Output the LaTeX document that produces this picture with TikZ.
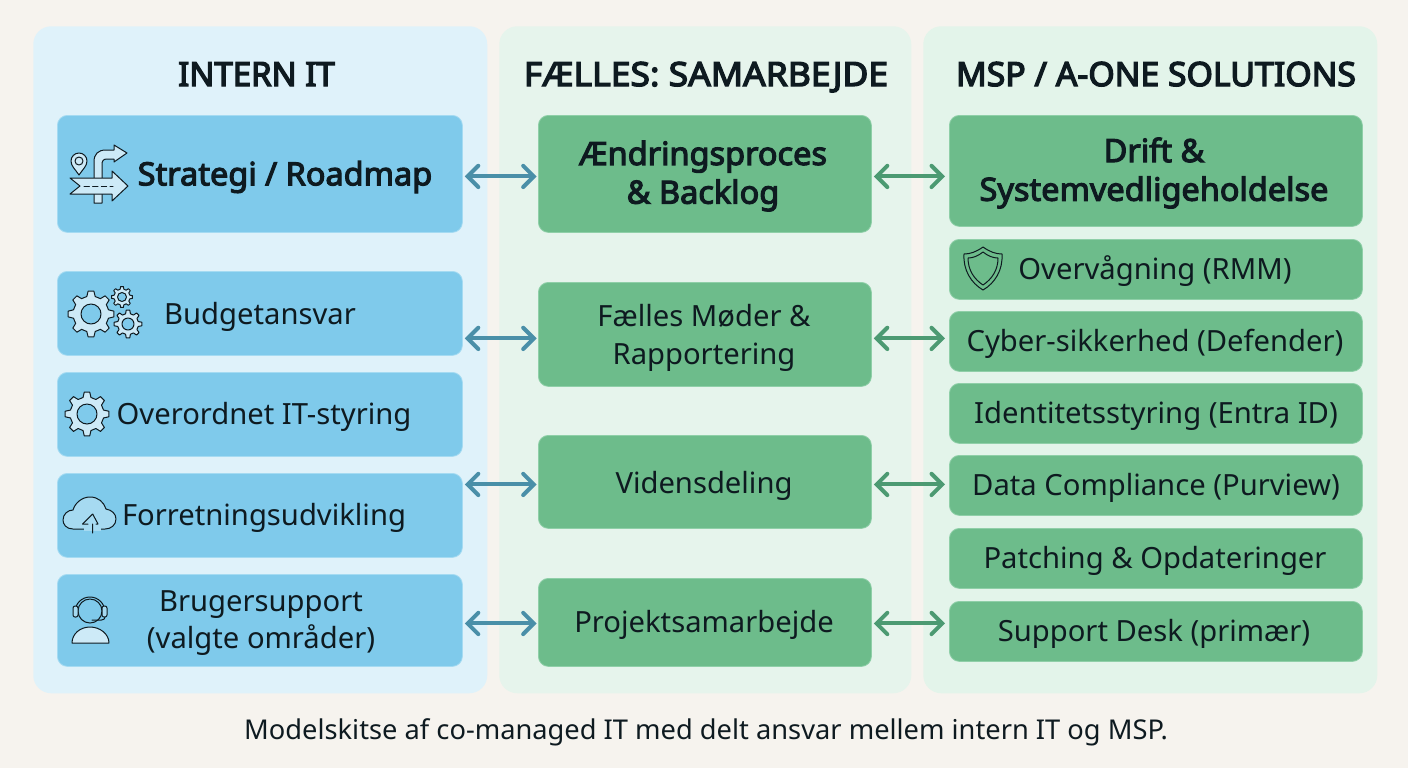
\documentclass[tikz,border=0pt]{standalone}
\usepackage{fontspec}
\setmainfont{Noto Sans}
\newfontfamily\titlea{Noto Sans}[FakeBold=4,FakeStretch=0.99]
\newfontfamily\titleb{Noto Sans}[FakeBold=4,FakeStretch=1.065]
\newfontfamily\titlec{Noto Sans}[FakeBold=4,FakeStretch=1.014]
\newfontfamily\boldlab{Noto Sans}[FakeBold=3.5,FakeStretch=1.015]
\usetikzlibrary{arrows.meta,calc}
\definecolor{bgc}{HTML}{F6F3EE}
\definecolor{pblue}{HTML}{DFF2FA}
\definecolor{pgreen}{HTML}{E6F4EC}
\definecolor{pgreenb}{HTML}{E3F4EA}
\definecolor{bblue}{HTML}{7FCAEB}
\definecolor{bgreen}{HTML}{6DBC8B}
\definecolor{edgeb}{HTML}{A5DBF2}
\definecolor{edgeg}{HTML}{8FCFA8}
\definecolor{ink}{HTML}{0E1A20}
\definecolor{arrb}{HTML}{4A8FA8}
\definecolor{arrg}{HTML}{4C9A72}
\definecolor{iconf}{HTML}{CDEAF7}
\newcommand{\fs}[2]{\fontsize{#1}{#2}\selectfont}
\tikzset{
  x=0.75pt,y=-0.75pt,
  panel/.style={rounded corners=13.5pt,draw=none},
  bluebox/.style={rounded corners=7.5pt,fill=bblue,draw=edgeb,line width=0.6pt},
  greenbox/.style={rounded corners=7.5pt,fill=bgreen,draw=edgeg,line width=0.6pt},
  title/.style={text=ink,anchor=base},
  lab/.style={text=ink,font=\fs{21.9}{28}\selectfont,align=center,anchor=center,yshift=-2.2pt},
  blab/.style={text=ink,font=\boldlab\fs{24}{29},align=center,anchor=center,yshift=-1.5pt},
  barrow/.style={line width=3pt,draw=arrb,{Straight Barb[length=8pt,width=16pt,line cap=round]}-{Straight Barb[length=8pt,width=16pt,line cap=round]},line cap=round,shorten <=1.5pt,shorten >=1pt},
  garrow/.style={line width=3pt,draw=arrg,{Straight Barb[length=8pt,width=16pt,line cap=round]}-{Straight Barb[length=8pt,width=16pt,line cap=round]},line cap=round,shorten <=1.5pt,shorten >=3pt},
  icon/.style={draw=ink,line width=0.75pt,line join=round,fill=iconf},
  iconn/.style={draw=ink,line width=0.75pt,line join=round,line cap=round},
}
\newcommand{\bx}[6]{\node[#6,rectangle,inner sep=0pt,minimum width={(#4-#2)*0.75pt},minimum height={(#5-#3)*0.75pt},anchor=north west] (#1) at (#2,#3) {};}
\newcommand{\gearicon}[7][icon]{% cx cy rout rin hole teeth
  \begin{scope}[shift={(#2,#3)}]
  \draw[#1,even odd rule] ({-0.3*360/#7}:#5)
    \foreach \i [evaluate=\i as \a using \i*360/#7] in {0,...,\numexpr#7-1\relax}
    { -- ({\a-0.30*360/#7}:#5) -- ({\a-0.16*360/#7}:#4) -- ({\a+0.16*360/#7}:#4) -- ({\a+0.30*360/#7}:#5)} -- cycle
    (0,0) circle (#6);
  \end{scope}}
\begin{document}
\begin{tikzpicture}
\useasboundingbox (0,0) rectangle (1408,768);
\fill[bgc] (0,0) rectangle (1408,768);
% panels
\bx{pl}{33}{26}{487}{693}{panel,fill=pblue}
\bx{pm}{499}{26}{911}{693}{panel,fill=pgreen}
\bx{pr}{923}{26}{1377}{693}{panel,fill=pgreenb}
% titles
\node[title,font=\titlea\fs{25}{30}] (tl) at (256.5,86) {INTERN IT};
\node[title,font=\titleb\fs{25}{30}] (tm) at (706,86) {FÆLLES: SAMARBEJDE};
\node[title,font=\titlec\fs{25}{30}] (tr) at (1156,86) {MSP / A-ONE SOLUTIONS};
% left boxes
\bx{l1}{57}{115}{462}{232}{bluebox}
\bx{l2}{57}{271}{462}{355}{bluebox}
\bx{l3}{57}{372}{462}{456}{bluebox}
\bx{l4}{57}{473}{462}{557}{bluebox}
\bx{l5}{57}{574}{462}{666}{bluebox}
% middle boxes
\bx{m1}{538}{115}{871}{232}{greenbox}
\bx{m2}{538}{282}{871}{386}{greenbox}
\bx{m3}{538}{435}{871}{528}{greenbox}
\bx{m4}{538}{578}{871}{666}{greenbox}
% right boxes
\bx{r1}{949}{115}{1362}{226}{greenbox}
\bx{r2}{949}{239}{1362}{299}{greenbox}
\bx{r3}{949}{311}{1362}{371}{greenbox}
\bx{r4}{949}{383}{1362}{443}{greenbox}
\bx{r5}{949}{455}{1362}{515}{greenbox}
\bx{r6}{949}{528}{1362}{588}{greenbox}
\bx{r7}{949}{601}{1362}{661}{greenbox}
% left text
\node[blab] (tl1) at (285,175) {Strategi / Roadmap};
\node[lab] (tl2) at (260,314) {Budgetansvar};
\node[lab] (tl3) at (264,414) {Overordnet IT-styring};
\node[lab] (tl4) at (264,515) {Forretningsudvikling};
\node[lab] (tl5) at (261,620) {Brugersupport\\(valgte områder)};
% middle text
\node[blab] (tm1) at (703,174) {Ændringsproces\\\& Backlog};
\node[lab] (tm2) at (704,335) {Fælles Møder \&\\Rapportering};
\node[lab] (tm3) at (704,483) {Vidensdeling};
\node[lab] (tm4) at (704,622) {Projektsamarbejde};
% right text
\node[blab] (tr1) at (1154,171) {Drift \&\\Systemvedligeholdelse};
\node[lab] (tr2) at (1155,268) {Overvågning (RMM)};
\node[lab] (tr3) at (1155,341) {Cyber-sikkerhed (Defender)};
\node[lab] (tr4) at (1156,413) {Identitetsstyring (Entra ID)};
\node[lab] (tr5) at (1156,485) {Data Compliance (Purview)};
\node[lab] (tr6) at (1155,558) {Patching \& Opdateringer};
\node[lab] (tr7) at (1154,631) {Support Desk (primær)};
% caption
\node[text=ink,font=\fs{20.45}{24}\selectfont,yshift=-1.5pt] (cap) at (706,730) {Modelskitse af co-managed IT med delt ansvar mellem intern IT og MSP.};
% connectors
\draw[barrow] ([yshift=-1.9pt]l1.east |- m1.west) -- ([yshift=-1.9pt]m1.west);
\draw[barrow] ([yshift=-3pt]l2.east |- m2.west) -- ([yshift=-3pt]m2.west);
\draw[barrow] ([yshift=-1.9pt]l4.east |- m3.west) -- ([yshift=-1.9pt]m3.west);
\draw[barrow] ([yshift=-0.8pt]l5.east |- m4.west) -- ([yshift=-0.8pt]m4.west);
\draw[garrow] ([yshift=-1.9pt]m1.east) -- ([yshift=-1.9pt]r1.west |- m1.east);
\draw[garrow] ([yshift=-3pt]m2.east) -- ([yshift=-3pt]r3.west |- m2.east);
\draw[garrow] ([yshift=-1.9pt]m3.east) -- ([yshift=-1.9pt]r5.west |- m3.east);
\draw[garrow] ([yshift=-0.8pt]m4.east) -- ([yshift=-0.8pt]r7.west |- m4.east);
% route icon
\draw[icon] (79,175) .. controls (75,169) and (71,166) .. (71,161) arc[start angle=180,end angle=360,radius=8] .. controls (87,166) and (83,169) .. (79,175) -- cycle;
\draw[iconn] (79,161) circle (4);
\draw[icon] (94,203) -- (94,162) .. controls (94,154) and (98,150) .. (106,150) -- (114,150) -- (114,145) -- (127,153) -- (114,162) -- (114,159) -- (107,159) .. controls (103,159) and (102,161) .. (102,165) -- (102,203) -- cycle;
\draw[icon] (70,178) -- (112,178) -- (112,171) -- (128,186) -- (112,201) -- (112,194) -- (70,194) -- (80,186) -- cycle;
\draw[iconn,dash pattern=on 4pt off 2.5pt] (84,186) -- (113,186);
% gears
\gearicon{91}{314}{23}{18}{10}{8}
\gearicon{122}{297}{10.5}{8}{4.5}{8}
\gearicon{128}{324}{14}{10.5}{6}{8}
\gearicon{87}{414}{22}{17}{10}{8}
% cloud
\draw[icon,fill=iconf!50!bblue] (73,529) .. controls (66,529) and (63,524) .. (63,520) .. controls (63,514) and (68,510) .. (73,510) .. controls (75,503) and (82,497) .. (90,497) .. controls (98,497) and (104,502) .. (106,509) .. controls (112,510) and (116,514) .. (116,519) .. controls (116,525) and (111,529) .. (105,529) -- cycle;
\fill[iconf!50!bblue] (84,527) rectangle (101,531);
\draw[iconn] (92.7,533) -- (92.7,524) (88,524) -- (82.5,524) -- (92.7,514) -- (98,524) -- (96,524);
% person
\draw[iconn] (90,611) circle (12);
\draw[iconn] (75,612) arc[start angle=180,end angle=360,radius=15];
\draw[iconn,fill=iconf!50!bblue,rounded corners=1.5pt] (73,606) rectangle (78,617);
\draw[iconn,fill=iconf!50!bblue,rounded corners=1.5pt] (102,606) rectangle (107,617);
\draw[iconn] (105,617) .. controls (105,621) and (100,620) .. (92,620);
\draw[icon,fill=iconf] (72,643) .. controls (72,634) and (80,627) .. (90,627) .. controls (100,627) and (109,634) .. (109,643) -- cycle;
% shield
\draw[iconn] (983,247) .. controls (990,252) and (996,254) .. (1002,254) .. controls (1003,270) and (995,283) .. (983,290) .. controls (971,283) and (963,270) .. (964,254) .. controls (970,254) and (976,252) .. (983,247) -- cycle;
\draw[iconn] (983,252) .. controls (988,256) and (993,258) .. (998,258) .. controls (998,270) and (992,279) .. (983,285) .. controls (974,279) and (968,270) .. (968,258) .. controls (973,258) and (978,256) .. (983,252) -- cycle;
\end{tikzpicture}
\end{document}
